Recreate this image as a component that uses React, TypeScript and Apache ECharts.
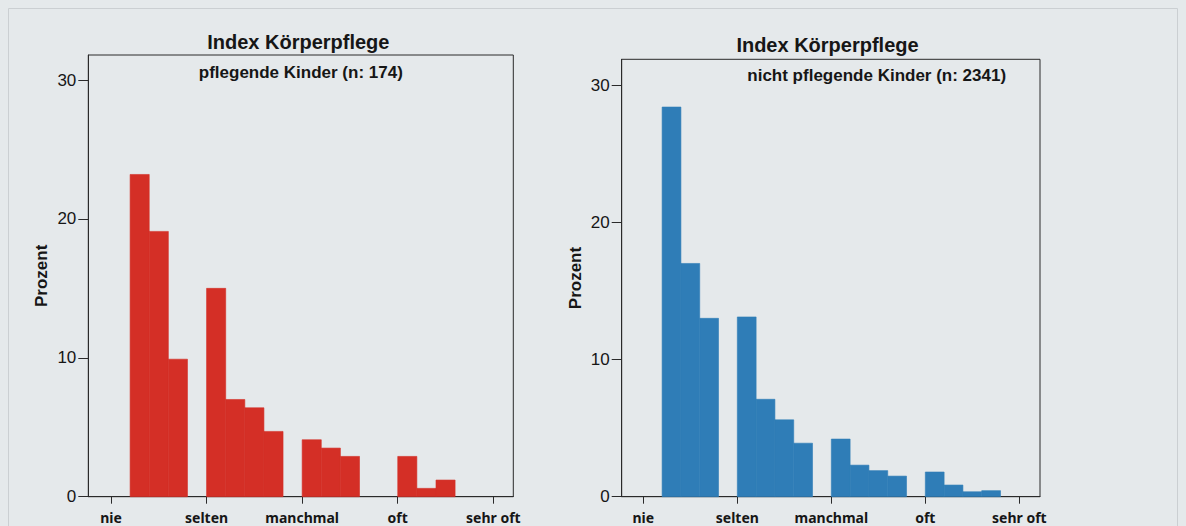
import React, { useEffect, useRef } from 'react';
import * as echarts from 'echarts';

// ---- data ----
const categories = ['nie', 'selten', 'manchmal', 'oft', 'sehr oft'];
const categoryPositions = [0, 1, 2, 3, 4];
const yTicks = [0, 10, 20, 30];
const binWidth = 0.2;
// Prozent per bin (bins of 0.2 starting at "nie")
const pflegendeValues = [0, 23.2, 19.1, 9.9, 0, 15.0, 7.0, 6.4, 4.7, 0, 4.1, 3.5, 2.9, 0, 0, 2.9, 0.6, 1.2, 0, 0];
const nichtPflegendeValues = [0, 28.4, 17.0, 13.0, 0, 13.1, 7.1, 5.6, 3.9, 0, 4.2, 2.3, 1.9, 1.5, 0, 1.8, 0.85, 0.36, 0.44, 0];
const titleText = 'Index Körperpflege';
const leftSubtitle = 'pflegende Kinder (n: 174)';
const rightSubtitle = 'nicht pflegende Kinder (n: 2341)';
const yAxisName = 'Prozent';

const RED = '#d42f26';
const BLUE = '#2f7db7';
const INK = '#161616';
const FRAME = '#2a2a2a';
const BG = '#e5e9eb';

function xAxisCfg(gridIndex: number, min: number, max: number) {
  return {
    type: 'value',
    gridIndex,
    min,
    max,
    splitLine: { show: false },
    axisLine: { show: true, onZero: false, lineStyle: { color: FRAME, width: 1 } },
    axisTick: { show: true, length: 7, customValues: categoryPositions, lineStyle: { color: FRAME, width: 1 } },
    axisLabel: {
      customValues: categoryPositions,
      formatter: (v: number) => categories[Math.round(v)] ?? '',
      fontFamily: 'Noto Sans',
      fontWeight: 'bold',
      fontSize: 14,
      lineHeight: 14,
      color: INK,
      margin: 14,
    },
  };
}

function yAxisCfg(gridIndex: number, max: number) {
  return {
    type: 'value',
    gridIndex,
    min: 0,
    max,
    splitLine: { show: false },
    axisLine: { show: true, onZero: false, lineStyle: { color: FRAME, width: 1 } },
    axisTick: { show: true, length: 10, customValues: yTicks, lineStyle: { color: FRAME, width: 1 } },
    axisLabel: {
      customValues: yTicks,
      fontFamily: 'Liberation Sans',
      fontSize: 17,
      color: INK,
      margin: 12,
    },
    name: yAxisName,
    nameLocation: 'middle',
    nameRotate: 90,
    nameGap: 38,
    nameTextStyle: { fontFamily: 'Liberation Sans', fontWeight: 'bold', fontSize: 17, color: INK },
  };
}

function barSeries(values: number[], idx: number, color: string) {
  return {
    type: 'custom',
    xAxisIndex: idx,
    yAxisIndex: idx,
    silent: true,
    data: values.map((v, i) => [i * binWidth, (i + 1) * binWidth, v]),
    encode: { x: [0, 1], y: 2 },
    renderItem: (_params: any, api: any) => {
      const v = api.value(2);
      if (!v) return { type: 'group', children: [] };
      const p0 = api.coord([api.value(0), v]);
      const p1 = api.coord([api.value(1), 0]);
      return {
        type: 'rect',
        shape: { x: p0[0], y: p0[1], width: p1[0] - p0[0], height: p1[1] - p0[1] },
        style: { fill: color, stroke: color, lineWidth: 0.6 },
      };
    },
  };
}

function textEl(text: string, x: number, y: number, size: number) {
  return {
    type: 'text',
    x,
    y,
    silent: true,
    style: {
      text,
      fill: INK,
      font: `bold ${size}px "Liberation Sans", Arial, sans-serif`,
      align: 'center',
      verticalAlign: 'middle',
      textAlign: 'center',
      textVerticalAlign: 'middle',
    },
  };
}

export default function App() {
  const ref = useRef<HTMLDivElement>(null);
  useEffect(() => {
    if (!ref.current) return;
    const chart = echarts.init(ref.current, undefined, { renderer: 'svg' });
    chart.setOption({
      animation: false,
      backgroundColor: BG,
      grid: [
        { left: 88.3, top: 55, width: 425, height: 441.7, show: true, borderColor: FRAME, borderWidth: 1, backgroundColor: 'transparent' },
        { left: 621.7, top: 59.3, width: 418.3, height: 437.4, show: true, borderColor: FRAME, borderWidth: 1, backgroundColor: 'transparent' },
      ],
      xAxis: [xAxisCfg(0, -0.2375, 4.209), xAxisCfg(1, -0.23, 4.22)],
      yAxis: [yAxisCfg(0, 31.8), yAxisCfg(1, 31.88)],
      series: [barSeries(pflegendeValues, 0, RED), barSeries(nichtPflegendeValues, 1, BLUE)],
      graphic: [
        {
          type: 'rect',
          silent: true,
          shape: { x: 8.5, y: 8.5, width: 1169, height: 540 },
          style: { fill: 'none', stroke: '#cbcfd2', lineWidth: 1 },
        },
        textEl(titleText, 298.3, 42.4, 20),
        textEl(leftSubtitle, 300.8, 72.4, 17),
        textEl(titleText, 827.5, 45.1, 20),
        textEl(rightSubtitle, 876.7, 75.8, 17),
      ],
    });
    return () => chart.dispose();
  }, []);
  return <div ref={ref} style={{ position: 'absolute', left: 0, top: 0, width: 1186, height: 526 }} />;
}
